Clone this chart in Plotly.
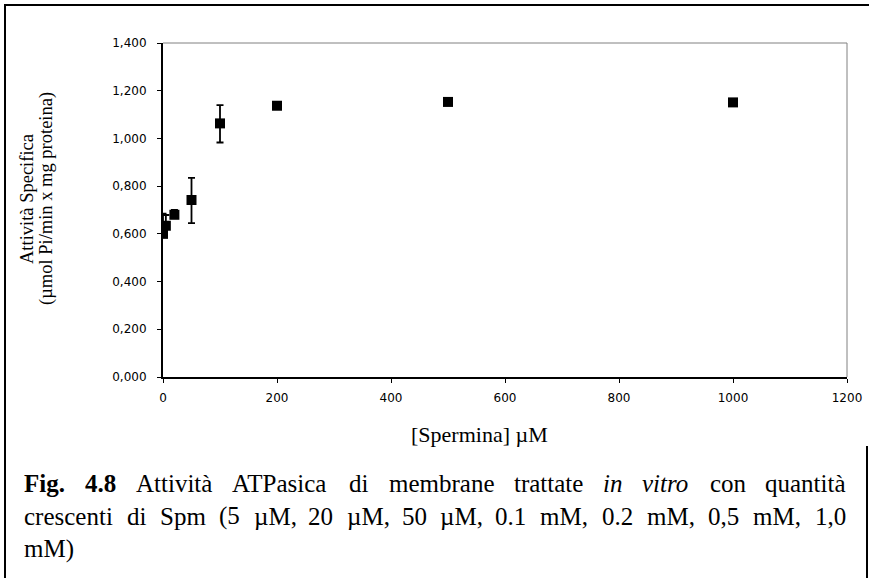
import plotly.graph_objects as go

# Data
spermina_uM = [0, 5, 20, 50, 100, 200, 500, 1000]
attivita = [0.600, 0.634, 0.680, 0.742, 1.063, 1.137, 1.153, 1.151]
err_plus = [0.085, 0.045, 0.020, 0.093, 0.077, 0.0, 0.0, 0.0]
err_minus = [0.0, 0.0, 0.0, 0.097, 0.080, 0.0, 0.0, 0.0]

x_ticks = [0, 200, 400, 600, 800, 1000, 1200]
y_ticks = [0.0, 0.2, 0.4, 0.6, 0.8, 1.0, 1.2, 1.4]
y_ticklabels = ["0,000", "0,200", "0,400", "0,600", "0,800", "1,000", "1,200", "1,400"]

x_title = "[Spermina] µM"
y_title_lines = ["Attività Specifica", "(µmol Pi/min x mg proteina)"]

# caption words: (text, style) ; style r=regular, b=bold, i=italic
caption_lines = [
    [("Fig.", "b"), ("4.8", "b"), ("Attività", "r"), ("ATPasica", "r"), ("di", "r"),
     ("membrane", "r"), ("trattate", "r"), ("in", "i"), ("vitro", "i"), ("con", "r"),
     ("quantità", "r")],
    [("crescenti", "r"), ("di", "r"), ("Spm", "r"), ("(5", "r"), ("µM,", "r"), ("20", "r"),
     ("µM,", "r"), ("50", "r"), ("µM,", "r"), ("0.1", "r"), ("mM,", "r"), ("0.2", "r"),
     ("mM,", "r"), ("0,5", "r"), ("mM,", "r"), ("1,0", "r")],
    [("mM)", "r")],
]

serif = "Liberation Serif, Times New Roman, serif"
sans = "DejaVu Sans, Verdana, sans-serif"

W, H = 869, 578
L, R, T, B = 163, 22, 43, 201

fig = go.Figure()
fig.add_trace(go.Scatter(
    x=spermina_uM, y=attivita, mode="markers",
    marker=dict(symbol="square", size=10, color="black", line=dict(width=0)),
    error_y=dict(type="data", symmetric=False, array=err_plus, arrayminus=err_minus,
                 color="black", thickness=1.8, width=3.5),
    showlegend=False,
))

fig.update_layout(
    width=W, height=H,
    margin=dict(l=L, r=R, t=T, b=B, autoexpand=False),
    paper_bgcolor="white", plot_bgcolor="white",
    xaxis=dict(range=[0, 1200], tickvals=x_ticks, ticktext=[str(v) for v in x_ticks],
               automargin=False,
               showgrid=False, zeroline=False, showline=True, linecolor="black", linewidth=2,
               ticks="outside", ticklen=4, tickcolor="black", tickwidth=1,
               ticklabelstandoff=5,
               tickfont=dict(family=sans, size=12, color="black")),
    yaxis=dict(range=[0, 1.4], tickvals=y_ticks, ticktext=y_ticklabels,
               automargin=False,
               showgrid=False, zeroline=False, showline=True, linecolor="black", linewidth=2,
               ticks="outside", ticklen=4, tickcolor="black", tickwidth=1,
               ticklabelstandoff=8,
               tickfont=dict(family=sans, size=12, color="black")),
)

pw, ph = W - L - R, H - T - B
def px(xp):
    return (xp - L) / pw
def py(yp):
    return (H - B - yp) / ph

# grey top and right plot borders
fig.add_shape(type="line", xref="paper", yref="paper", x0=0, x1=1, y0=1, y1=1,
              line=dict(color="#808080", width=1))
fig.add_shape(type="line", xref="paper", yref="paper", x0=1, x1=1, y0=0, y1=1,
              line=dict(color="#808080", width=1))

# outer frame
fig.add_shape(type="line", xref="paper", yref="paper", x0=px(5), x1=px(5), y0=py(5), y1=py(578),
              line=dict(color="black", width=2))
fig.add_shape(type="line", xref="paper", yref="paper", x0=px(4), x1=px(869), y0=py(5), y1=py(5),
              line=dict(color="black", width=2))
fig.add_shape(type="line", xref="paper", yref="paper", x0=px(867), x1=px(867), y0=py(446), y1=py(578),
              line=dict(color="black", width=2))

# axis titles
fig.add_annotation(text=x_title, xref="paper", yref="paper", x=px(479), y=py(434),
                   xanchor="center", yanchor="middle", showarrow=False,
                   font=dict(family=serif, size=22, color="black"))
for t, xx in zip(y_title_lines, [27, 46]):
    fig.add_annotation(text=t, xref="paper", yref="paper", x=px(xx), y=py(199),
                       xanchor="center", yanchor="middle", showarrow=False, textangle=-90,
                       font=dict(family=serif, size=18.5, color="black"))

# Times-metric advance widths (per 1000 em) for justification of the caption
REG = {" ": 250, "(": 333, ")": 333, ",": 250, ".": 250, "A": 722, "M": 889, "P": 556,
       "S": 556, "T": 611, "F": 556, "a": 444, "b": 500, "c": 444, "d": 500, "e": 444,
       "f": 333, "g": 500, "h": 500, "i": 278, "l": 278, "m": 778, "n": 500, "o": 500,
       "p": 500, "q": 500, "r": 333, "s": 389, "t": 278, "u": 500, "v": 500, "à": 444,
       "µ": 500}
BOLD = dict(REG, F=611)
ITAL = dict(REG, v=444, r=389)
def wlen(text, style, size):
    tab = {"r": REG, "b": BOLD, "i": ITAL}[style]
    return sum(tab.get(ch, 500) for ch in text) / 1000 * size

cap_size = 25
cap_left, cap_right = 22, 844
cap_y = [483, 516, 549]
for li, (words, yy) in enumerate(zip(caption_lines, cap_y)):
    widths = [wlen(w, s, cap_size) for w, s in words]
    last = li == len(caption_lines) - 1
    if len(words) > 1 and not last:
        gap = (cap_right - cap_left - sum(widths)) / (len(words) - 1)
    else:
        gap = cap_size * 0.25
    xcur = cap_left
    for (w, s), wd in zip(words, widths):
        txt = {"r": w, "b": "<b>%s</b>" % w, "i": "<i>%s</i>" % w}[s]
        fig.add_annotation(text=txt, xref="paper", yref="paper", x=px(xcur), y=py(yy),
                           xanchor="left", yanchor="middle", showarrow=False,
                           font=dict(family=serif, size=cap_size, color="black"))
        xcur += wd + gap

fig.write_html(
    "out.html",
    config={"displayModeBar": False},
    post_script=(
        "var s=document.createElement('style');"
        "s.textContent='html,body{margin:0;padding:0;overflow:hidden;}';"
        "document.head.appendChild(s);"
    ),
)
